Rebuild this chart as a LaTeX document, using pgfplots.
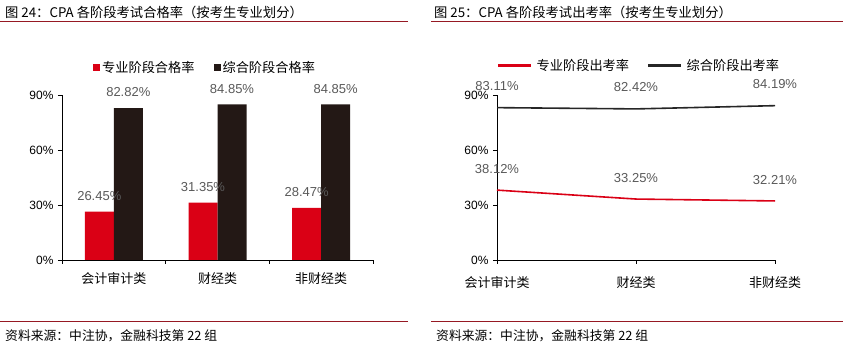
\documentclass[border=0pt]{standalone}
\usepackage{pgfplots}
\pgfplotsset{compat=1.18}
\usepackage{fontspec}
\setmainfont{Liberation Sans}
\newfontfamily\cjk{Noto Sans CJK SC}
\definecolor{barred}{RGB}{218,0,21}
\definecolor{barblack}{RGB}{35,24,21}
\definecolor{lblgray}{RGB}{89,89,89}
\definecolor{rulered}{RGB}{150,25,35}
\definecolor{lineblack}{RGB}{38,38,38}
\begin{document}
\begin{tikzpicture}[x=1pt,y=1pt]
\path[use as bounding box] (0,0) rectangle (843,-352);
% titles and rules
\node[anchor=west, inner sep=0pt, font=\cjk\fontsize{13.3}{13.3}\selectfont] at (5,-12) {图 24：CPA 各阶段考试合格率（按考生专业划分）};
\node[anchor=west, inner sep=0pt, font=\cjk\fontsize{13.3}{13.3}\selectfont] at (434,-12) {图 25：CPA 各阶段考试出考率（按考生专业划分）};
\draw[rulered, line width=1pt] (0,-22) -- (408,-22);
\draw[rulered, line width=1pt] (431,-22) -- (843,-22);
\draw[rulered, line width=1pt] (0,-322) -- (408,-322);
\draw[rulered, line width=1pt] (431,-322) -- (843,-322);
\node[anchor=west, inner sep=0pt, font=\cjk\fontsize{12.8}{12.8}\selectfont] at (5,-336) {资料来源：中注协，金融科技第 22 组};
\node[anchor=west, inner sep=0pt, font=\cjk\fontsize{12.8}{12.8}\selectfont] at (436,-336) {资料来源：中注协，金融科技第 22 组};

\pgfplotsset{
  myaxis/.style={
    anchor=south west, scale only axis, height=165pt,
    ymin=0, ymax=90, ytick={0,30,60,90},
    axis x line=bottom, axis y line=left,
    axis line style={-, black, line width=0.6pt},
    tick align=outside, major tick length=4pt,
    tick style={black, line width=0.6pt},
    yticklabel={\pgfmathprintnumber[assume math mode=true]{\tick}\%},
    yticklabel style={font=\fontsize{12}{12}\selectfont, xshift=-1pt},
    xticklabel style={font=\cjk\fontsize{13}{13}\selectfont, yshift=-9pt},
    clip=false,
    legend cell align=left,
    legend style={draw=none, fill=none, font=\cjk\fontsize{13.2}{13.2}\selectfont, anchor=center,
      /tikz/every even column/.append style={column sep=17pt}},
    legend columns=2,
    nodes near coords={\pgfmathprintnumber[fixed,fixed zerofill,precision=2,assume math mode=true]{\pgfplotspointmeta}\%},
    every node near coord/.append style={font=\fontsize{13}{13}\selectfont, text=lblgray, anchor=south, inner sep=0pt},
  }
}

% left chart
\begin{axis}[myaxis, at={(62pt,-260pt)}, width=311pt,
  xmin=-0.5, xmax=2.5,
  xtick={-0.5,0.5,1.5,2.5}, xticklabels={},
  extra x ticks={0,1,2}, extra x tick labels={会计审计类,财经类,非财经类},
  extra x tick style={major tick length=0pt},
  ybar=0pt, bar width=29pt,
  every node near coord/.append style={yshift=11pt},
  legend style={at={(0.46,1.164)}},
]
\addplot[fill=barred, draw=none, legend image code/.code={\fill[barred] (0pt,-3.5pt) rectangle (7pt,3.5pt);}] coordinates {(0,26.45) (1,31.35) (2,28.47)};
\addplot[fill=barblack, draw=none, legend image code/.code={\fill[barblack] (0pt,-3.5pt) rectangle (7pt,3.5pt);}] coordinates {(0,82.82) (1,84.85) (2,84.85)};
\legend{专业阶段合格率,综合阶段合格率}
\end{axis}

% right chart
\begin{axis}[myaxis, at={(497pt,-260pt)}, width=278pt,
  xmin=0, xmax=2,
  xtick={0,1,2}, xticklabels={会计审计类,财经类,非财经类},
  every node near coord/.append style={yshift=16pt},
  legend style={at={(0.513,1.18)}, /tikz/every odd column/.append style={column sep=4pt}},
]
\addplot[draw=barred, color=barred, line width=1.6pt, mark=none, legend image code/.code={\fill[barred] (0pt,-0.8pt) rectangle (31pt,0.8pt);}] coordinates {(0,38.12) (1,33.25) (2,32.21)};
\addplot[draw=lineblack, color=lineblack, line width=1.6pt, mark=none, legend image code/.code={\fill[lineblack] (0pt,-0.8pt) rectangle (31pt,0.8pt);}] coordinates {(0,83.11) (1,82.42) (2,84.19)};
\legend{专业阶段出考率,综合阶段出考率}
\end{axis}
\end{tikzpicture}
\end{document}
